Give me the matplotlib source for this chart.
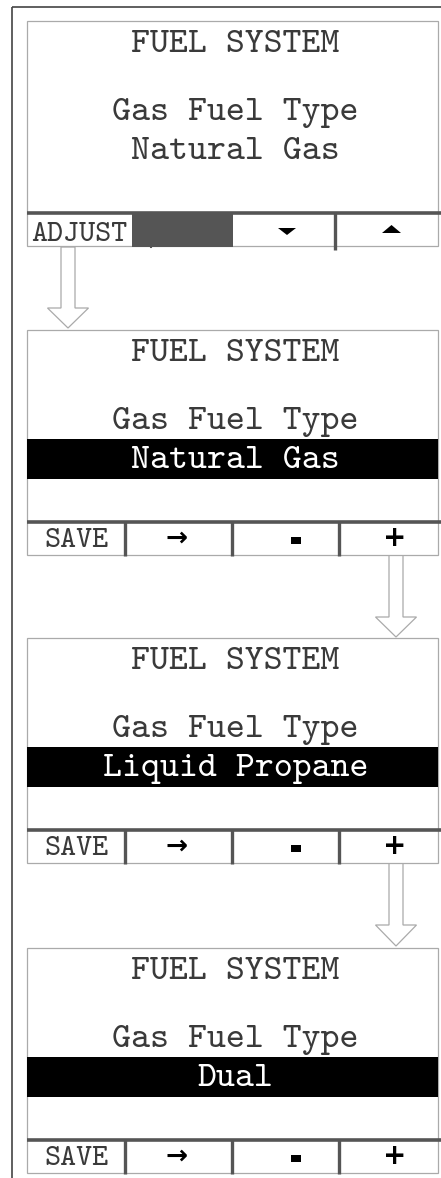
import matplotlib
matplotlib.use("Agg")
import matplotlib.pyplot as plt
from matplotlib.patches import Rectangle, Polygon

# ---- content ----
screen_title = "FUEL SYSTEM"
setting_name = "Gas Fuel Type"
setting_values = ["Natural Gas", "Natural Gas", "Liquid Propane", "Dual"]
highlighted = [False, True, True, True]
first_buttons = ["ADJUST", "", "▼", "▲"]
edit_buttons = ["SAVE", "→", "-", "+"]

# ---- layout (pixel coordinates) ----
W, H = 441, 1178
panel_tops = [21, 330, 638, 948]
box_x0, box_x1 = 27, 438
panel_h = 225
mono = ["cmtt10", "Liberation Mono"]

fig = plt.figure(figsize=(W / 100, H / 100), dpi=100)
ax = fig.add_axes([0, 0, 1, 1])
ax.set_xlim(0, W)
ax.set_ylim(H, 0)
ax.axis("off")

# outer frame
ax.plot([12, 12], [7, H], color="#444444", lw=1.2, solid_capstyle="butt")
ax.plot([12, W], [7, 7], color="#444444", lw=1.2, solid_capstyle="butt")

def hollow_arrow(xc, y0, y_head, y_tip):
    sw, hw = 7, 20.5
    pts = [(xc - sw, y0), (xc + sw, y0), (xc + sw, y_head), (xc + hw, y_head),
           (xc, y_tip), (xc - hw, y_head), (xc - sw, y_head)]
    ax.add_patch(Polygon(pts, closed=True, facecolor="white", edgecolor="#aaaaaa", lw=0.9, zorder=1))

hollow_arrow(68, 247, 308, 328)
hollow_arrow(396, 555, 617, 637)
hollow_arrow(396, 863, 925, 946)

dark = "#555555"
txt = "#3a3a3a"
fs_main = 26
for i, T in enumerate(panel_tops):
    ax.add_patch(Rectangle((box_x0, T), box_x1 - box_x0, panel_h, facecolor="white",
                           edgecolor="#aaaaaa", lw=0.9, zorder=2))
    cx = (box_x0 + box_x1) / 2 + 3
    ax.text(cx, T + 31, screen_title, family=mono, fontsize=fs_main, color=txt,
            ha="center", va="baseline", zorder=5)
    ax.text(cx, T + 99, setting_name, family=mono, fontsize=fs_main, color=txt,
            ha="center", va="baseline", zorder=5)
    if highlighted[i]:
        ax.add_patch(Rectangle((box_x0, T + 109), box_x1 - box_x0, 40, facecolor="black",
                               edgecolor="none", zorder=3))
        vc = "white"
    else:
        vc = txt
    ax.text(cx, T + 138, setting_values[i], family=mono, fontsize=fs_main, color=vc,
            ha="center", va="baseline", zorder=5)

    ly = T + 192
    ax.plot([box_x0, W], [ly, ly], color=dark, lw=2.6, solid_capstyle="butt", zorder=4)

    if i == 0:
        ax.add_patch(Rectangle((132, ly), 101, panel_h - 192 + 1, facecolor=dark,
                               edgecolor="none", zorder=4))
        ax.plot([151, 151], [ly, T + 226], color=dark, lw=1.5, zorder=4)
        ax.plot([335, 335], [ly, T + 229], color=dark, lw=2.4, solid_capstyle="butt", zorder=4)
        ax.text(31, T + 220, first_buttons[0], family=mono, fontsize=22, color=txt,
                ha="left", va="baseline", zorder=5)
        ax.add_patch(Polygon([(278, T + 207), (296, T + 207), (287, T + 214)], closed=True,
                             facecolor="black", edgecolor="none", zorder=5))
        ax.add_patch(Polygon([(382, T + 212), (401, T + 212), (391.5, T + 204)], closed=True,
                             facecolor="black", edgecolor="none", zorder=5))
    else:
        for dx in [125, 232, 339]:
            ax.plot([dx, dx], [ly, T + 226], color=dark, lw=2.4, solid_capstyle="butt", zorder=4)
        ax.text(76, T + 217, edit_buttons[0], family=mono, fontsize=22, color=txt,
                ha="center", va="baseline", zorder=5)
        ax.text(177, T + 209, edit_buttons[1], family="DejaVu Sans", fontsize=19,
                fontweight="bold", color="black", ha="center", va="center", zorder=5)
        ax.add_patch(Rectangle((291, T + 207), 10, 7, facecolor="black", edgecolor="none", zorder=5))
        ax.text(395, T + 208, edit_buttons[3], family="DejaVu Sans", fontsize=20,
                fontweight="bold", color="black", ha="center", va="center", zorder=5)

fig.savefig("out.png", dpi=100)
